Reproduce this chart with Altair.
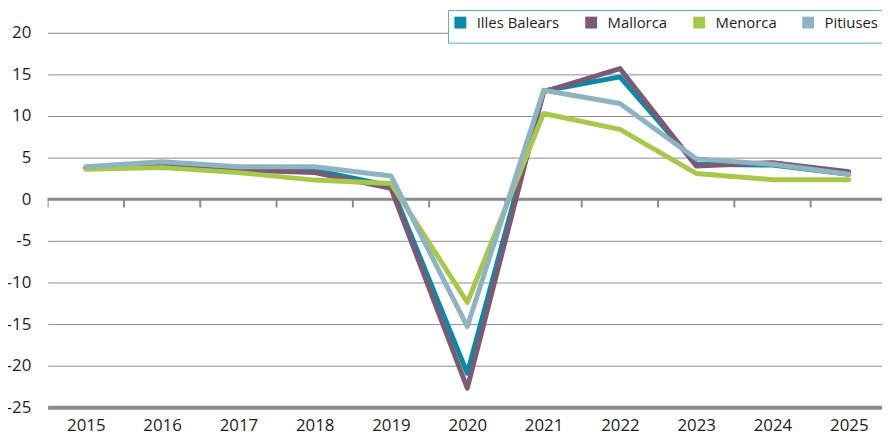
import altair as alt
import pandas as pd

years = [2015, 2016, 2017, 2018, 2019, 2020, 2021, 2022, 2023, 2024, 2025]
series_names = ["Illes Balears", "Mallorca", "Menorca", "Pitiuses"]
illes = [3.8, 4.2, 3.6, 3.5, 1.6, -20.9, 13.0, 14.7, 4.2, 4.1, 3.0]
mallorca = [3.7, 4.1, 3.5, 3.2, 1.3, -22.7, 12.9, 15.7, 4.0, 4.4, 3.3]
menorca = [3.6, 3.8, 3.2, 2.3, 1.9, -12.4, 10.3, 8.4, 3.1, 2.35, 2.35]
pitiuses = [3.9, 4.5, 3.9, 3.9, 2.8, -15.3, 13.1, 11.5, 4.85, 4.2, 3.0]
colors = ["#0a8aa8", "#7b5b74", "#a8c84a", "#8fb4c1"]
y_ticks = [-25, -20, -15, -10, -5, 0, 5, 10, 15, 20]

rows = []
for name, vals in zip(series_names, [illes, mallorca, menorca, pitiuses]):
    for yr, v in zip(years, vals):
        rows.append({"year": yr, "serie": name, "value": v})
df = pd.DataFrame(rows)
ticks_df = pd.DataFrame({"year": years})
zero_df = pd.DataFrame({"value": [0]})

x_scale = alt.Scale(domain=[2014.5, 2014.5 + 842 / 77], nice=False, zero=False)
y_scale = alt.Scale(domain=[-25, 20], nice=False, zero=False)
grey = "#8c8c8c"
txt = "#1d1d1b"

ticks = alt.Chart(ticks_df).transform_calculate(b="datum.year - 0.5").mark_rule(
    color=grey, strokeWidth=2, clip=True
).encode(
    x=alt.X("b:Q", scale=x_scale),
    y=alt.datum(0, scale=y_scale),
    y2=alt.datum(-1),
)

zero = alt.Chart(zero_df).mark_rule(color=grey, strokeWidth=3).encode(
    y=alt.Y("value:Q", scale=y_scale)
)

lines = alt.Chart(df).mark_line(strokeWidth=5, strokeJoin="round", strokeCap="round").encode(
    x=alt.X(
        "year:Q",
        scale=x_scale,
        axis=alt.Axis(
            values=years, format="d", labelFontSize=17, labelPadding=10, ticks=False,
            grid=False, domain=True, domainColor=grey, domainWidth=4, title=None,
            labelColor=txt, labelFlush=False,
        ),
    ),
    y=alt.Y(
        "value:Q",
        scale=y_scale,
        axis=alt.Axis(
            values=y_ticks, labelExpr="datum.value + ''", grid=True, gridColor=grey,
            gridWidth=1, ticks=False, domain=False, labelPadding=17, labelFontSize=17,
            title=None, labelColor=txt,
        ),
    ),
    color=alt.Color(
        "serie:N",
        scale=alt.Scale(domain=series_names, range=colors),
        legend=alt.Legend(
            orient="none", legendX=404, legendY=-23, direction="horizontal", title=None,
            symbolType="square", symbolSize=36, symbolStrokeWidth=6, labelFontSize=15,
            columnPadding=16, padding=5, strokeColor="#4fb0c6", fillColor="white",
            labelOffset=9, labelColor=txt,
        ),
    ),
)

chart = alt.layer(ticks, zero, lines).properties(
    width=842, height=378,
    padding={"left": 40, "top": 23, "right": 0, "bottom": 33},
    autosize=alt.AutoSizeParams(type="none"),
).configure(font="Open Sans").configure_view(stroke=None)

chart.save("out.html", embed_options={"renderer": "svg", "actions": False})
